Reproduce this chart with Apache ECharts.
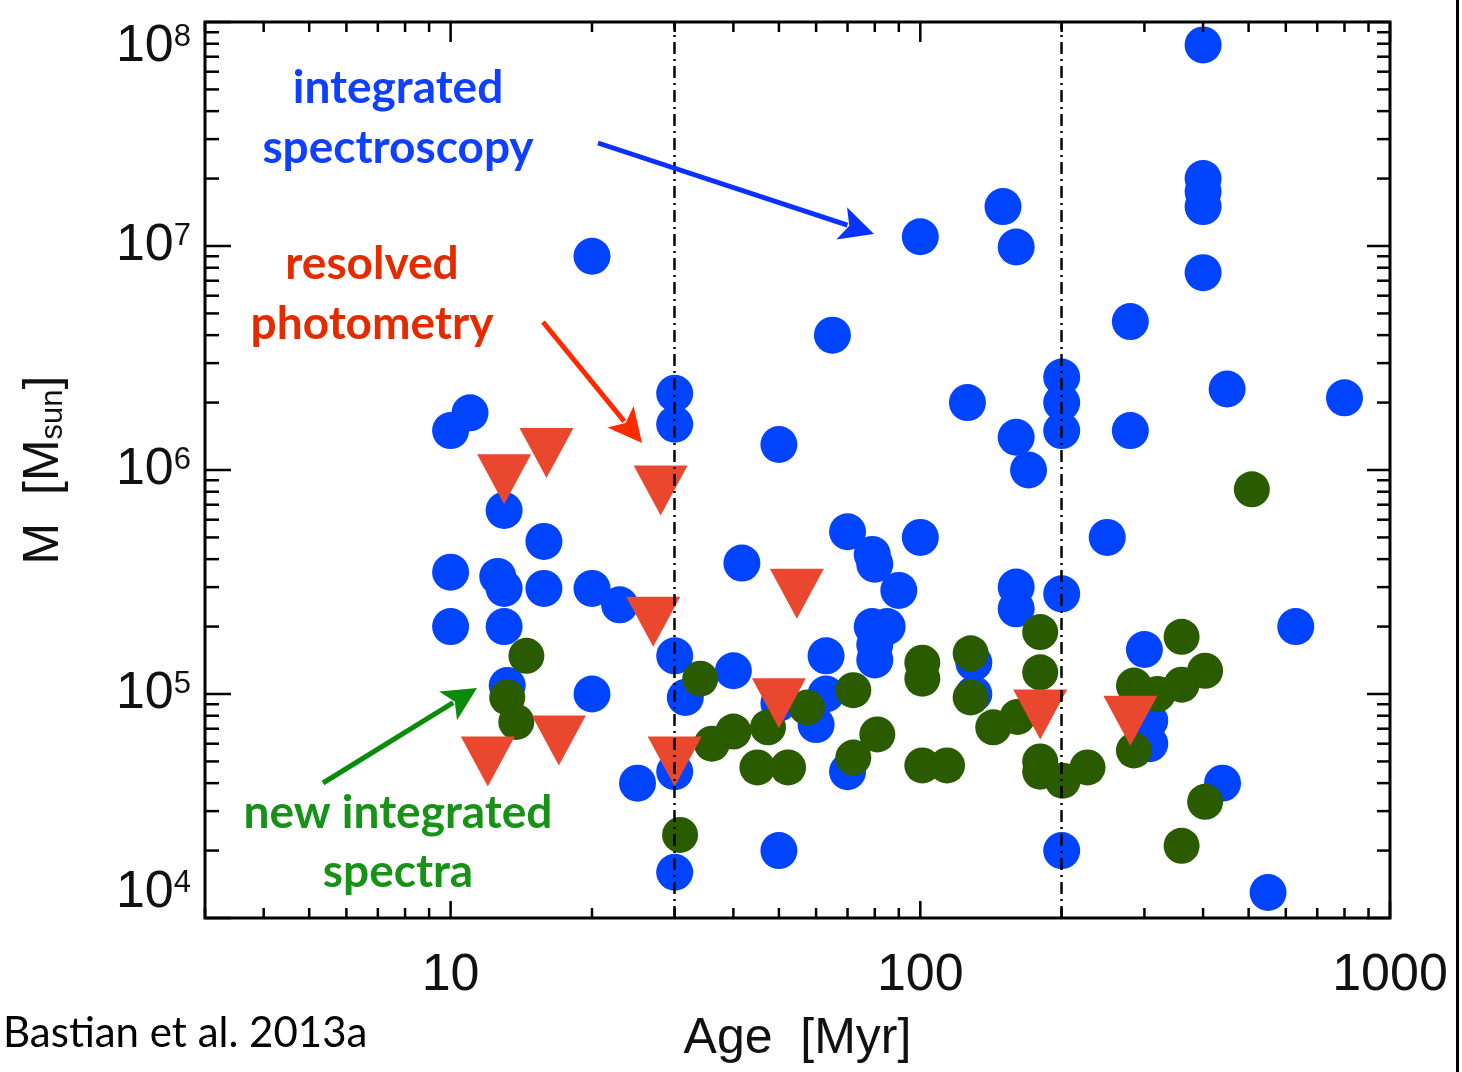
<!DOCTYPE html>
<html><head><meta charset="utf-8">
<script src="https://cdn.jsdelivr.net/npm/echarts/dist/echarts.min.js"></script>
<style>html,body{margin:0;padding:0;background:#fff}#c{width:1462px;height:1072px}</style>
</head><body><div id="c"></div>
<script>
// ---- tick labels ----
const xTickLabels = ['10', '100', '1000'];
const yTickExponents = [4, 5, 6, 7, 8];
const ageRange = [3, 1000];
const massRange = [1e4, 1e8];
const ageDividers = [30, 200];

// ---- integrated spectroscopy (blue) ----
const specAge = [400, 400, 400, 400, 400, 280, 450, 800, 280, 100, 150, 160, 20, 65, 126, 160, 170, 200, 200, 200,
  50, 10, 11, 30, 30, 13, 15.8, 10, 12.6, 13, 15.8, 20, 22.9, 41.7, 10, 13, 30, 40, 13.2, 20,
  31.6, 25, 30, 30, 63, 63, 60, 70, 50, 90, 85, 79, 80, 80, 160, 160, 200, 130, 130, 50,
  200, 300, 630, 308, 308, 440, 550, 250, 70, 79, 80, 100];
const specMass = [7.9e7, 2.0e7, 1.75e7, 1.5e7, 7.6e6, 4.6e6, 2.3e6, 2.1e6, 1.5e6, 1.1e7, 1.5e7, 9.9e6, 9.0e6, 4.0e6, 2.0e6, 1.4e6, 1.0e6, 2.6e6, 2.0e6, 1.5e6,
  1.3e6, 1.5e6, 1.8e6, 2.2e6, 1.6e6, 6.6e5, 4.8e5, 3.5e5, 3.35e5, 2.96e5, 2.96e5, 2.96e5, 2.5e5, 3.84e5, 2.0e5, 2.0e5, 1.48e5, 1.27e5, 1.09e5, 1.0e5,
  9.65e4, 4.0e4, 4.5e4, 1.6e4, 1.48e5, 1.0e5, 7.3e4, 4.5e4, 9.1e4, 2.9e5, 2.0e5, 2.0e5, 1.42e5, 1.66e5, 3.0e5, 2.4e5, 2.8e5, 1.38e5, 1.0e5, 2.0e4,
  2.0e4, 1.58e5, 2.0e5, 7.6e4, 6.0e4, 4.0e4, 1.3e4, 5.0e5, 5.3e5, 4.2e5, 3.8e5, 5.0e5];

// ---- new integrated spectra (green) ----
const newAge = [14.5, 13.2, 13.8, 34, 36, 40, 30.8, 47.4, 57.4, 45, 52.3, 72, 72, 81, 101, 101, 101, 114, 128, 128,
  143, 161, 180, 180, 180, 180, 201, 227, 285, 285, 320, 360, 360, 404, 404, 360, 508];
const newMass = [1.48e5, 9.65e4, 7.5e4, 1.17e5, 6.0e4, 6.8e4, 2.35e4, 7.1e4, 8.7e4, 4.7e4, 4.7e4, 1.04e5, 5.2e4, 6.6e4, 1.38e5, 1.17e5, 4.8e4, 4.8e4, 1.52e5, 9.65e4,
  7.1e4, 7.9e4, 1.89e5, 1.25e5, 5.0e4, 4.5e4, 4.1e4, 4.7e4, 1.09e5, 5.6e4, 1.0e5, 1.8e5, 1.1e5, 1.27e5, 3.3e4, 2.1e4, 8.2e5];

// ---- resolved photometry (red triangles) ----
const photAge = [13, 16, 28, 27, 12, 17, 30, 50, 54.6, 180, 280];
const photMass = [9.1e5, 1.19e6, 8.1e5, 2.1e5, 5.0e4, 6.2e4, 5.0e4, 9.1e4, 2.8e5, 8.1e4, 7.6e4];

const zip = (a, b) => a.map((v, i) => [v, b[i]]);

// axis tick positions (major + minor) from the decade structure
const xTicks = [];
for (let e = 0; e <= 3; e++) for (let m = 1; m <= 9; m++) {
  const v = m * Math.pow(10, e);
  if (v >= ageRange[0] && v <= ageRange[1]) xTicks.push([v, massRange[0], m === 1 ? 1 : 0]);
}
const yTicks = [];
for (let e = 4; e <= 8; e++) for (let m = 1; m <= 9; m++) {
  const v = m * Math.pow(10, e);
  if (v >= massRange[0] && v <= massRange[1]) yTicks.push([ageRange[0], v, m === 1 ? 1 : 0]);
}

const chart = echarts.init(document.getElementById('c'), null, {renderer: 'canvas'});
const tickStyle = {stroke: '#000', lineWidth: 2.5};
const axisFont = '"Liberation Sans", Arial, sans-serif';

function xTickRender(params, api) {
  const v = api.value(0), major = api.value(2);
  const b = api.coord([v, massRange[0]]);
  const t = api.coord([v, massRange[1]]);
  const lb = major ? 17 : 10, lt = major ? 20 : 10;
  return {type: 'group', children: [
    {type: 'line', shape: {x1: b[0], y1: b[1], x2: b[0], y2: b[1] - lb}, style: tickStyle},
    {type: 'line', shape: {x1: t[0], y1: t[1], x2: t[0], y2: t[1] + lt}, style: tickStyle}
  ]};
}
function yTickRender(params, api) {
  const v = api.value(1), major = api.value(2);
  const l = api.coord([ageRange[0], v]);
  const r = api.coord([ageRange[1], v]);
  const ll = major ? 26 : 14, lr = major ? 23 : 13;
  return {type: 'group', children: [
    {type: 'line', shape: {x1: l[0], y1: l[1], x2: l[0] + ll, y2: l[1]}, style: tickStyle},
    {type: 'line', shape: {x1: r[0], y1: r[1], x2: r[0] - lr, y2: r[1]}, style: tickStyle}
  ]};
}

function arrow(sx, sy, tx, ty, color) {
  const dx = tx - sx, dy = ty - sy, len = Math.hypot(dx, dy);
  const ux = dx / len, uy = dy / len, nx = -uy, ny = ux;
  const L = 34, W = 17, N = 8;
  const bx = tx - ux * L, by = ty - uy * L;
  return [
    {type: 'line', z: 50, shape: {x1: sx, y1: sy, x2: tx - ux * (L - N + 2), y2: ty - uy * (L - N + 2)},
      style: {stroke: color, lineWidth: 5}},
    {type: 'polygon', z: 50, shape: {points: [[tx, ty], [bx + nx * W, by + ny * W], [tx - ux * (L - N), ty - uy * (L - N)], [bx - nx * W, by - ny * W]]},
      style: {fill: color}}
  ];
}
const annFont = 'Lato, "Open Sans", sans-serif';
function label(text, x, y, color, weight, size, align) {
  return {type: 'text', z: 50, x: x, y: y, style: {text: text, fill: color, font: (weight || 'bold') + ' ' + (size || 46) + 'px ' + annFont,
    textAlign: align || 'center', textVerticalAlign: 'middle'}};
}

const option = {
  animation: false,
  backgroundColor: '#fff',
  grid: {left: 205, top: 22, right: 72, bottom: 154, show: true, borderColor: '#000', borderWidth: 3,
    backgroundColor: 'transparent', containLabel: false, outerBoundsMode: 'none'},
  xAxis: {
    type: 'log', logBase: 10, min: ageRange[0], max: ageRange[1],
    axisLine: {show: false}, axisTick: {show: false}, splitLine: {show: false},
    axisLabel: {
      margin: 32, fontSize: 52, color: '#111', fontFamily: axisFont,
      formatter: v => {
        const e = Math.log10(v);
        const s = String(Math.round(v));
        return (Math.abs(e - Math.round(e)) < 1e-6 && xTickLabels.includes(s)) ? s : '';
      }
    },
    name: 'Age  [Myr]', nameLocation: 'middle', nameGap: 96,
    nameTextStyle: {fontSize: 50, color: '#111', fontFamily: axisFont}
  },
  yAxis: {
    type: 'log', logBase: 10, min: massRange[0], max: massRange[1], splitNumber: 4,
    axisLine: {show: false}, axisTick: {show: false}, splitLine: {show: false},
    axisLabel: {
      margin: 14, color: '#111',
      verticalAlignMaxLabel: 'top', verticalAlignMinLabel: 'bottom',
      formatter: v => {
        const e = Math.round(Math.log10(v));
        return (Math.abs(Math.log10(v) - e) < 1e-6 && yTickExponents.includes(e)) ? '{b|10}{s|' + e + '}' : '';
      },
      rich: {
        b: {fontSize: 52, lineHeight: 50, color: '#111', fontFamily: axisFont},
        s: {fontSize: 31, lineHeight: 26, verticalAlign: 'top', color: '#111', fontFamily: axisFont}
      }
    },
    name: '{a|M  [M}{s|sun}{a|]}', nameLocation: 'middle', nameGap: 136, nameRotate: 90,
    nameTextStyle: {
      rich: {
        a: {fontSize: 50, lineHeight: 50, color: '#111', fontFamily: axisFont},
        s: {fontSize: 31, lineHeight: 12, verticalAlign: 'bottom', color: '#111', fontFamily: axisFont}
      }
    }
  },
  series: [
    {type: 'custom', name: 'xticks', data: xTicks, renderItem: xTickRender, clip: false, z: 5, silent: true,
      encode: {x: 0, y: 1}},
    {type: 'custom', name: 'yticks', data: yTicks, renderItem: yTickRender, clip: false, z: 5, silent: true,
      encode: {x: 0, y: 1}},
    {type: 'scatter', name: 'integrated spectroscopy', data: zip(specAge, specMass), symbol: 'circle', symbolSize: 37,
      itemStyle: {color: '#0044ff', opacity: 1}, z: 2,
      markLine: {silent: true, symbol: 'none', label: {show: false},
        lineStyle: {color: '#000', width: 2.5, type: [12, 5, 2, 5], opacity: 1},
        data: ageDividers.map(a => ({xAxis: a}))}},
    {type: 'scatter', name: 'new integrated spectra', data: zip(newAge, newMass), symbol: 'circle', symbolSize: 36,
      itemStyle: {color: '#2a5b00', opacity: 1}, z: 3},
    {type: 'scatter', name: 'resolved photometry', data: zip(photAge, photMass), symbol: 'triangle', symbolRotate: 180,
      symbolSize: [54, 50], itemStyle: {color: '#e9482e', opacity: 1}, z: 4}
  ],
  graphic: [
    label('integrated', 398, 88, '#1040ff'),
    label('spectroscopy', 398, 148, '#1040ff'),
    label('resolved', 372, 264, '#e32b00'),
    label('photometry', 372, 324, '#e32b00'),
    label('new integrated', 398, 813, '#169216'),
    label('spectra', 398, 872, '#169216'),
    label('Bastian et al. 2013a', 3, 1033, '#000', 'normal', 42, 'left'),
    ...arrow(598, 143, 874, 234, '#0a32ff'),
    ...arrow(543, 322, 642, 443, '#ff2a00'),
    ...arrow(323, 783, 477, 688, '#0a8c0a'),
    {type: 'rect', z: 50, shape: {x: 1456, y: 0, width: 3, height: 1072}, style: {fill: '#000'}}
  ]
};
chart.setOption(option);
</script>
</body></html>
